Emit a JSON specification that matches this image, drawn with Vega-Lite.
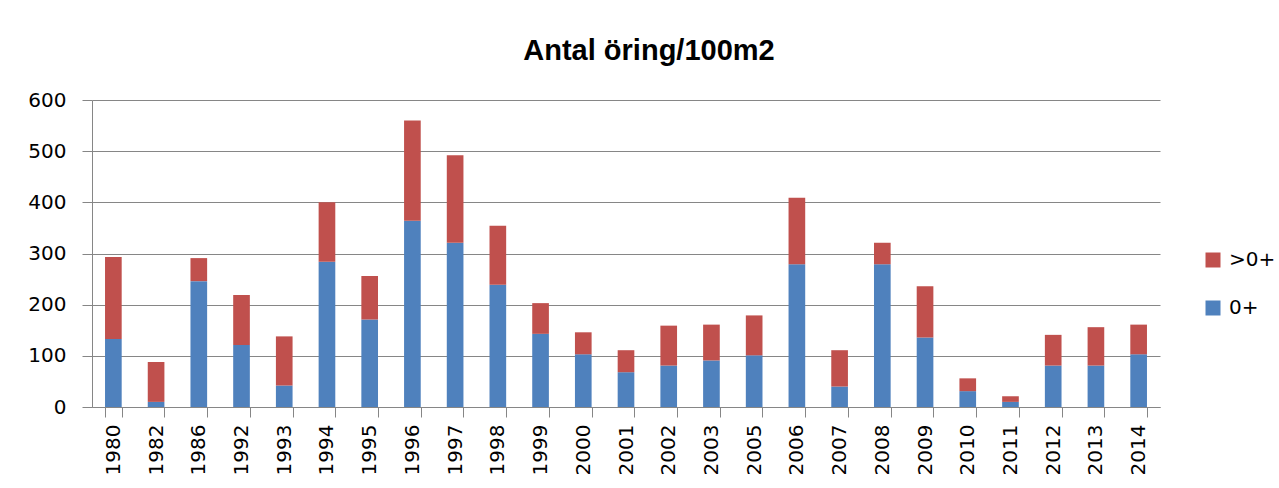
{
  "$schema": "https://vega.github.io/schema/vega-lite/v6.json",
  "width": 1068,
  "height": 307,
  "autosize": {"type": "none"},
  "padding": {"left": 92, "top": 100, "right": 119, "bottom": 81},
  "background": "white",
  "title": {
    "text": "Antal öring/100m2",
    "font": "Liberation Sans",
    "fontSize": 29,
    "fontWeight": "bold",
    "color": "black",
    "anchor": "middle",
    "baseline": "alphabetic",
    "offset": 1,
    "dx": 23
  },
  "data": {
    "values": [
      {"year": "1980", "serie": "0+", "value": 133}, {"year": "1980", "serie": ">0+", "value": 160},
      {"year": "1982", "serie": "0+", "value": 10}, {"year": "1982", "serie": ">0+", "value": 78},
      {"year": "1986", "serie": "0+", "value": 246}, {"year": "1986", "serie": ">0+", "value": 45},
      {"year": "1992", "serie": "0+", "value": 121}, {"year": "1992", "serie": ">0+", "value": 98},
      {"year": "1993", "serie": "0+", "value": 42}, {"year": "1993", "serie": ">0+", "value": 96},
      {"year": "1994", "serie": "0+", "value": 284}, {"year": "1994", "serie": ">0+", "value": 116},
      {"year": "1995", "serie": "0+", "value": 171}, {"year": "1995", "serie": ">0+", "value": 85},
      {"year": "1996", "serie": "0+", "value": 364}, {"year": "1996", "serie": ">0+", "value": 196},
      {"year": "1997", "serie": "0+", "value": 321}, {"year": "1997", "serie": ">0+", "value": 171},
      {"year": "1998", "serie": "0+", "value": 239}, {"year": "1998", "serie": ">0+", "value": 115},
      {"year": "1999", "serie": "0+", "value": 143}, {"year": "1999", "serie": ">0+", "value": 60},
      {"year": "2000", "serie": "0+", "value": 103}, {"year": "2000", "serie": ">0+", "value": 43},
      {"year": "2001", "serie": "0+", "value": 68}, {"year": "2001", "serie": ">0+", "value": 43},
      {"year": "2002", "serie": "0+", "value": 81}, {"year": "2002", "serie": ">0+", "value": 78},
      {"year": "2003", "serie": "0+", "value": 91}, {"year": "2003", "serie": ">0+", "value": 70},
      {"year": "2005", "serie": "0+", "value": 101}, {"year": "2005", "serie": ">0+", "value": 78},
      {"year": "2006", "serie": "0+", "value": 279}, {"year": "2006", "serie": ">0+", "value": 130},
      {"year": "2007", "serie": "0+", "value": 40}, {"year": "2007", "serie": ">0+", "value": 71},
      {"year": "2008", "serie": "0+", "value": 279}, {"year": "2008", "serie": ">0+", "value": 42},
      {"year": "2009", "serie": "0+", "value": 136}, {"year": "2009", "serie": ">0+", "value": 100},
      {"year": "2010", "serie": "0+", "value": 31}, {"year": "2010", "serie": ">0+", "value": 25},
      {"year": "2011", "serie": "0+", "value": 10}, {"year": "2011", "serie": ">0+", "value": 11},
      {"year": "2012", "serie": "0+", "value": 81}, {"year": "2012", "serie": ">0+", "value": 60},
      {"year": "2013", "serie": "0+", "value": 81}, {"year": "2013", "serie": ">0+", "value": 75},
      {"year": "2014", "serie": "0+", "value": 103}, {"year": "2014", "serie": ">0+", "value": 58}
    ]
  },
  "mark": {"type": "bar"},
  "encoding": {
    "x": {
      "field": "year",
      "type": "ordinal",
      "title": null,
      "scale": {"paddingInner": 0.61, "paddingOuter": 0.305},
      "axis": {
        "labelAngle": -90,
        "labelFont": "DejaVu Sans",
        "labelFontSize": 20,
        "labelColor": "black",
        "labelPadding": 7,
        "tickBand": "extent",
        "tickSize": 10,
        "tickColor": "#868686",
        "domainColor": "#868686",
        "grid": false
      }
    },
    "y": {
      "field": "value",
      "type": "quantitative",
      "aggregate": "sum",
      "stack": "zero",
      "title": null,
      "scale": {"domain": [0, 600], "nice": false},
      "axis": {
        "values": [0, 100, 200, 300, 400, 500, 600],
        "labelFont": "DejaVu Sans",
        "labelFontSize": 20,
        "labelColor": "black",
        "labelPadding": 16,
        "tickSize": 10,
        "tickColor": "#868686",
        "domainColor": "#868686",
        "gridColor": "#868686",
        "gridOpacity": 1
      }
    },
    "color": {
      "field": "serie",
      "type": "nominal",
      "scale": {"domain": [">0+", "0+"], "range": ["#C0504D", "#4F81BD"]},
      "legend": {
        "title": null,
        "orient": "none",
        "legendX": 1111,
        "legendY": 150,
        "symbolType": "square",
        "symbolSize": 225,
        "symbolStrokeWidth": 0,
        "symbolOpacity": 1,
        "labelFont": "DejaVu Sans",
        "labelFontSize": 20,
        "labelColor": "black",
        "labelOffset": 6,
        "rowPadding": 28
      }
    },
    "order": {"field": "serie", "sort": "ascending"}
  },
  "config": {"view": {"stroke": null}}
}
